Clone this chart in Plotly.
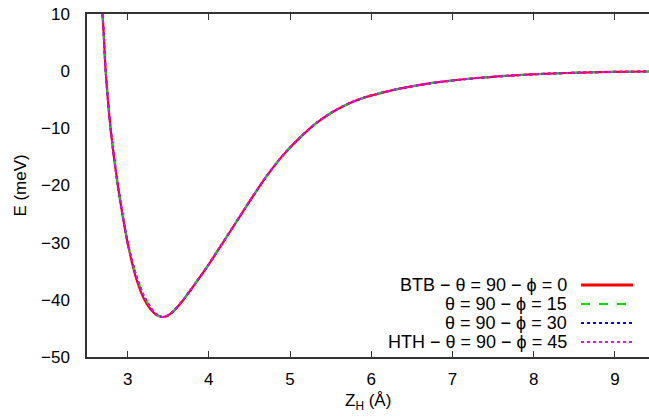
import plotly.graph_objects as go

# ---- data ----
z_h = [2.66, 2.69, 2.73, 2.79, 2.88, 3.00, 3.10, 3.20, 3.28, 3.35, 3.43, 3.50,
       3.57, 3.67, 3.77, 3.98, 4.15, 4.31, 4.51, 4.72, 4.92, 5.13, 5.33, 5.54,
       5.74, 5.94, 6.15, 6.35, 6.60, 6.93, 7.34, 7.75, 8.20, 8.60, 9.00, 9.42]

e_btb_phi0 = [13, 10, 0, -10, -20, -30, -36.0, -39.8, -41.6, -42.6, -43.0, -42.7,
              -41.9, -40.3, -38.4, -34.2, -30.5, -27.0, -22.6, -18.2, -14.6, -11.5,
              -9.0, -7.0, -5.55, -4.5, -3.7, -3.06, -2.4, -1.75, -1.15, -0.75,
              -0.42, -0.24, -0.12, -0.06]
e_phi15 = [13, 10, 0, -10, -20, -30, -35.5, -39.3, -41.3, -42.5, -43.0, -42.7,
           -41.9, -40.3, -38.4, -34.2, -30.5, -27.0, -22.6, -18.2, -14.6, -11.5,
           -9.0, -7.0, -5.55, -4.5, -3.7, -3.06, -2.4, -1.75, -1.15, -0.75,
           -0.42, -0.24, -0.12, -0.06]
e_phi30 = [13, 10, 0, -10, -20, -30, -35.5, -39.3, -41.3, -42.5, -43.0, -42.7,
           -41.9, -40.3, -38.4, -34.2, -30.5, -27.0, -22.6, -18.2, -14.6, -11.5,
           -9.0, -7.0, -5.55, -4.5, -3.7, -3.06, -2.4, -1.75, -1.15, -0.75,
           -0.42, -0.24, -0.12, -0.06]
e_hth_phi45 = [13, 10, 0, -10, -20, -30, -35.5, -39.3, -41.3, -42.5, -43.0, -42.7,
               -41.9, -40.3, -38.4, -34.2, -30.5, -27.0, -22.6, -18.2, -14.6, -11.5,
               -9.0, -7.0, -5.55, -4.5, -3.7, -3.06, -2.4, -1.75, -1.15, -0.75,
               -0.42, -0.24, -0.12, -0.06]

series_names = ["BTB \u2212 \u03b8 = 90 \u2212 \u03d5 = 0",
                "\u03b8 = 90 \u2212 \u03d5 = 15",
                "\u03b8 = 90 \u2212 \u03d5 = 30",
                "HTH \u2212 \u03b8 = 90 \u2212 \u03d5 = 45"]
series_values = [e_btb_phi0, e_phi15, e_phi30, e_hth_phi45]
x_ticks = [3, 4, 5, 6, 7, 8, 9]
y_ticks = [10, 0, -10, -20, -30, -40, -50]

# ---- styles ----
colors = ["#ff0000", "#00dd00", "#0000ff", "#ff00ff"]
dashes = ["solid", "dash", "dot", "dot"]
widths = [2.2, 2, 2, 2]
FONT = "Liberation Sans, Arial, Helvetica, sans-serif"
FS = 17

fig = go.Figure()
for name, vals, c, d, w in zip(series_names, series_values, colors, dashes, widths):
    fig.add_trace(go.Scatter(x=z_h, y=vals, mode="lines", name=name,
                             line=dict(color=c, dash=d, width=w, shape="spline", smoothing=0.8),
                             showlegend=False))

# custom gnuplot-style legend (text right-aligned, sample on the right)
leg_y = [0.21, 0.1545, 0.099, 0.0437]
leg_w = [3, 2, 2, 2]
for name, c, d, w, yy in zip(series_names, colors, dashes, leg_w, leg_y):
    fig.add_annotation(x=0.858, y=yy, xref="paper", yref="paper", text=name,
                       showarrow=False, xanchor="right", yanchor="middle",
                       font=dict(size=18, color="black", family=FONT))
    fig.add_shape(type="line", xref="paper", yref="paper", x0=0.879, x1=0.9715,
                  y0=yy, y1=yy, line=dict(color=c, dash=d, width=w))

fig.add_annotation(x=0.5, y=-0.13, xref="paper", yref="paper",
                   text="Z<sub>H</sub> (\u00c5)", showarrow=False,
                   xanchor="center", yanchor="middle",
                   font=dict(size=FS, color="black", family=FONT))
fig.add_annotation(x=-0.119, y=0.5, xref="paper", yref="paper",
                   text="E (meV)", showarrow=False, textangle=-90,
                   xanchor="center", yanchor="middle",
                   font=dict(size=FS, color="black", family=FONT))

fig.update_layout(
    width=649, height=418,
    margin=dict(l=87, r=0, t=14, b=61),
    paper_bgcolor="white", plot_bgcolor="white",
    font=dict(family=FONT, size=FS, color="black"),
    xaxis=dict(range=[2.5, 9.42], tickvals=x_ticks, ticks="inside", ticklen=6,
               tickcolor="#333", showline=True, linecolor="#333", linewidth=1.5,
               mirror="ticks", showgrid=False, zeroline=False, ticklabelstandoff=6),
    yaxis=dict(range=[-50, 10], tickvals=y_ticks, ticks="", showline=True,
               linecolor="#333", linewidth=1.5, showgrid=False, zeroline=False,
               ticklabelstandoff=12),
)

fig.write_html("out.html", config={"displayModeBar": False},
               post_script="document.body.style.margin='0';document.body.style.padding='0';")
